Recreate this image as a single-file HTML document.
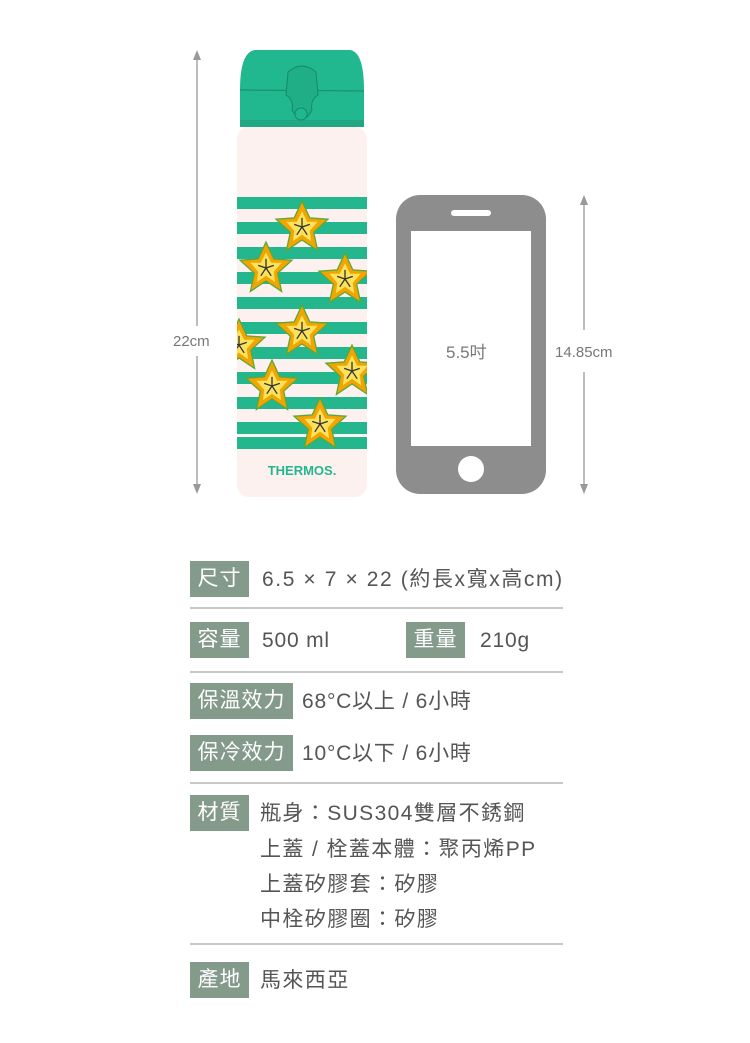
<!DOCTYPE html>
<html><head><meta charset="utf-8"><style>
body{margin:0;width:750px;height:1043px;background:#fff;position:relative;overflow:hidden;font-family:"Liberation Sans","Noto Sans CJK TC",sans-serif;}
.a{position:absolute}
.lab{position:absolute;background:#849a8b;color:#fff;font-size:21px;height:36px;line-height:36px;text-align:center;letter-spacing:1px}
.t{position:absolute;color:#555;font-size:21px;line-height:24px;white-space:nowrap;letter-spacing:0.8px}
.hr{position:absolute;left:190px;width:373px;height:2px;background:#c8c8c8}
</style></head><body>
<svg class="a" style="left:0;top:0" width="750" height="540">
<defs>
<g id="st"><g transform="scale(1.3)"><polygon points="0,-20 6,-7 20,-6 9,4 12,18 0,10 -12,18 -9,4 -20,-6 -6,-7" fill="#f2a400" stroke="#5aa83a" stroke-width="1"/><polygon points="0,-12 4,-4 12,-4 6,3 7,11 0,6 -7,11 -6,3 -12,-4 -4,-4" fill="#fbe25a"/><path d="M0,0L0,-7M0,0L6,-2M0,0L4,6M0,0L-4,6M0,0L-6,-2" stroke="#333" stroke-width="1"/></g></g>
<clipPath id="bc"><rect x="237" y="127" width="130" height="370" rx="12"/></clipPath>
</defs>
<line x1="197" y1="54" x2="197" y2="326" stroke="#999" stroke-width="1.3"/>
<line x1="197" y1="356" x2="197" y2="491" stroke="#999" stroke-width="1.3"/>
<polygon points="197,50 193,60 201,60" fill="#999"/><polygon points="197,494 193,484 201,484" fill="#999"/>
<text x="173" y="346" font-size="15" fill="#777" font-family="Liberation Sans">22cm</text>
<line x1="584" y1="198" x2="584" y2="330" stroke="#999" stroke-width="1.3"/>
<line x1="584" y1="372" x2="584" y2="491" stroke="#999" stroke-width="1.3"/>
<polygon points="584,195 580,205 588,205" fill="#999"/><polygon points="584,494 580,484 588,484" fill="#999"/>
<text x="555" y="357" font-size="15" fill="#777" font-family="Liberation Sans">14.85cm</text>
<rect x="396" y="195" width="150" height="299" rx="24" fill="#8d8d8d"/>
<rect x="411" y="231" width="120" height="215" fill="#fff"/>
<rect x="451" y="210" width="40" height="6" rx="3" fill="#fff"/>
<circle cx="471" cy="469" r="13" fill="#fff"/>
<text x="446" y="358" font-size="17" fill="#777" font-family="Liberation Sans,Noto Sans CJK TC">5.5吋</text>
<rect x="237" y="127" width="130" height="370" rx="12" fill="#fcf1ee"/>
<g clip-path="url(#bc)" fill="#24b78e">
<rect x="237" y="197" width="130" height="12"/><rect x="237" y="222" width="130" height="12"/><rect x="237" y="247" width="130" height="12"/><rect x="237" y="272" width="130" height="12"/><rect x="237" y="297" width="130" height="12"/><rect x="237" y="322" width="130" height="12"/><rect x="237" y="347" width="130" height="12"/><rect x="237" y="372" width="130" height="12"/><rect x="237" y="397" width="130" height="12"/><rect x="237" y="422" width="130" height="12"/><rect x="237" y="437" width="130" height="12"/>
<use href="#st" x="302" y="227"/><use href="#st" x="266" y="268"/><use href="#st" x="345" y="279"/><use href="#st" x="302" y="331"/><use href="#st" x="239" y="345"/><use href="#st" x="352" y="371"/><use href="#st" x="272" y="386"/><use href="#st" x="320" y="424"/>
</g>
<text x="302" y="475" font-size="13" font-weight="bold" fill="#24b78e" text-anchor="middle" font-family="Liberation Sans">THERMOS.</text>
<path d="M240,127 L240,90 Q240,52 255,50 L350,50 Q364,52 364,90 L364,127 Z" fill="#22b88f"/>
<line x1="240" y1="90" x2="364" y2="91" stroke="#178a6a" stroke-width="1"/>
<rect x="240" y="120" width="124" height="7" fill="#1fa883"/>
<path d="M288,72 Q302,60 316,72 L318,95 Q310,100 312,110 Q302,128 292,110 Q294,100 286,95 Z" fill="#1fae86" stroke="#148a69" stroke-width="1"/>
<circle cx="301" cy="114" r="6" fill="#22b88f" stroke="#148a69"/>
</svg>

<div class="lab" style="left:190px;top:561px;width:59px">尺寸</div>
<div class="t" style="left:262px;top:568px;letter-spacing:1.6px">6.5 × 7 × 22 (約長x寬x高cm)</div>
<div class="hr" style="top:607px"></div>
<div class="lab" style="left:190px;top:622px;width:59px">容量</div>
<div class="t" style="left:262px;top:629px">500 ml</div>
<div class="lab" style="left:406px;top:622px;width:59px">重量</div>
<div class="t" style="left:480px;top:629px">210g</div>
<div class="hr" style="top:671px"></div>
<div class="lab" style="left:190px;top:683px;width:103px">保溫效力</div>
<div class="t" style="left:302px;top:690px">68°C以上 / 6小時</div>
<div class="lab" style="left:190px;top:735px;width:103px">保冷效力</div>
<div class="t" style="left:302px;top:742px">10°C以下 / 6小時</div>
<div class="hr" style="top:782px"></div>
<div class="lab" style="left:190px;top:795px;width:59px">材質</div>
<div class="t" style="left:260px;top:802px;letter-spacing:1.4px">瓶身：SUS304雙層不銹鋼</div>
<div class="t" style="left:260px;top:838px;letter-spacing:1.4px">上蓋 / 栓蓋本體：聚丙烯PP</div>
<div class="t" style="left:260px;top:873px;letter-spacing:1.4px">上蓋矽膠套：矽膠</div>
<div class="t" style="left:260px;top:908px;letter-spacing:1.4px">中栓矽膠圈：矽膠</div>
<div class="hr" style="top:943px"></div>
<div class="lab" style="left:190px;top:962px;width:59px">產地</div>
<div class="t" style="left:260px;top:969px;letter-spacing:1.4px">馬來西亞</div>
</body></html>
